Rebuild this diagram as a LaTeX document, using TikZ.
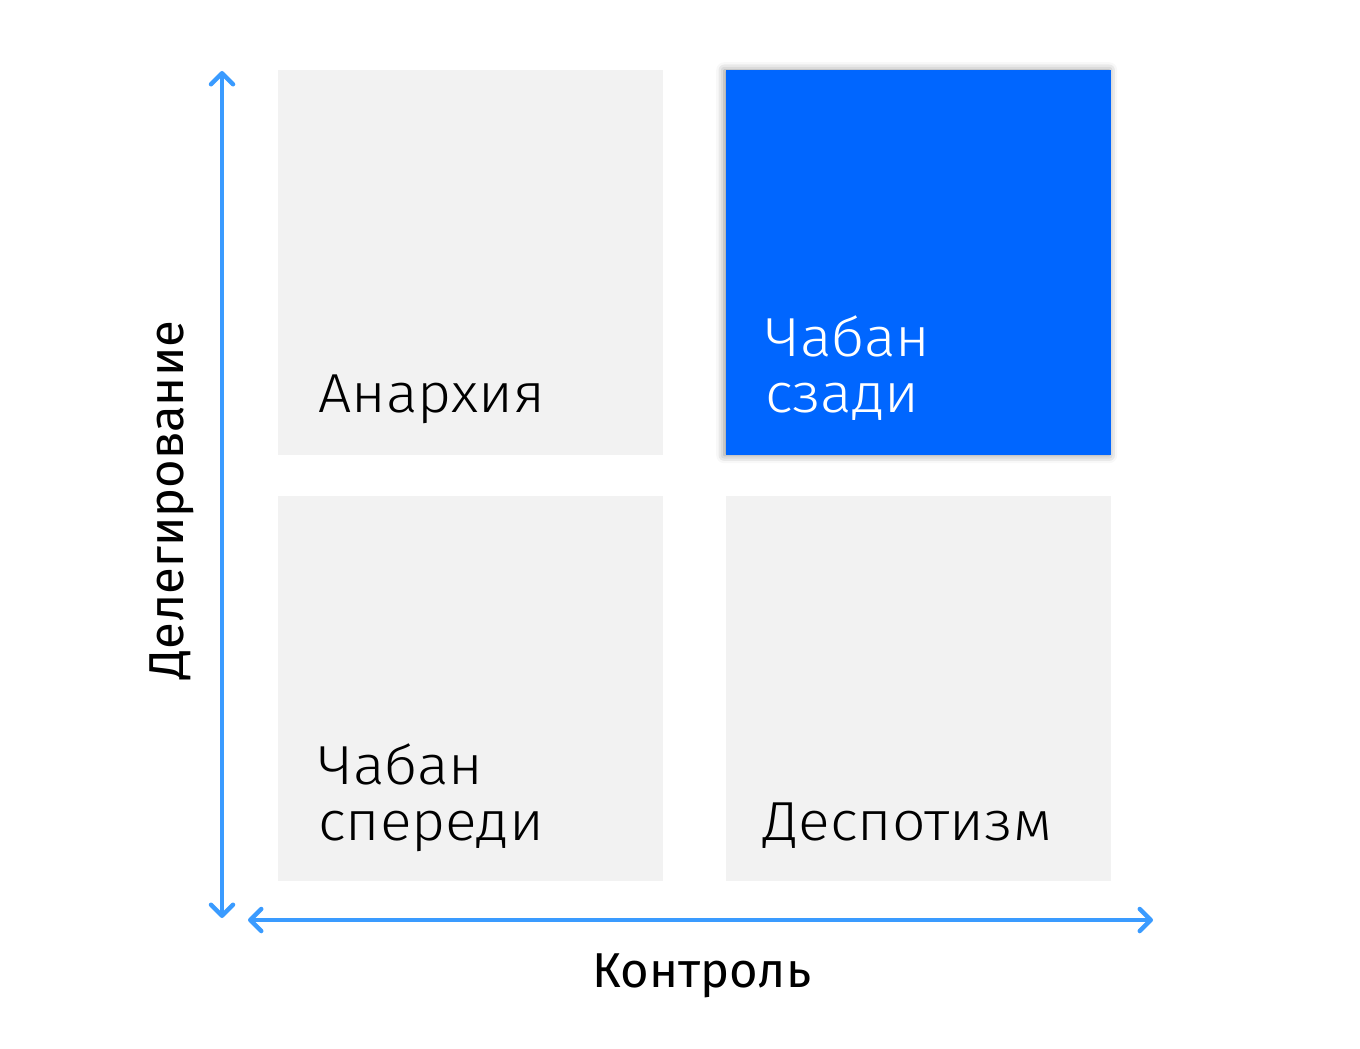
\documentclass[tikz,border=0pt]{standalone}
\usepackage{fontspec}
\usepackage{graphicx}
\setmainfont{Fira Sans}
\newfontfamily\lightfont{Fira Sans Light}
\usetikzlibrary{arrows.meta,shadows.blur}
\definecolor{boxgrey}{HTML}{F2F2F2}
\definecolor{boxblue}{HTML}{0066FF}
\definecolor{axisblue}{HTML}{3A9BFF}
\newcommand{\wide}[1]{\scalebox{1.07}[1]{#1}}
\tikzset{barbtip/.tip={Straight Barb[length=11pt,width=22pt,line width=4.5pt,line cap=round,line join=round]}}
\begin{document}
\begin{tikzpicture}[x=1pt,y=-1pt,
  cell/.style={draw=none,fill=boxgrey,minimum width=385pt,minimum height=385pt,inner sep=0pt,anchor=north west},
  hot/.style={cell,fill=boxblue,blur shadow={shadow xshift=-2pt,shadow yshift=0pt,shadow blur radius=8pt,shadow opacity=45}},
  lbl/.style={font=\lightfont\fontsize{55}{60}\selectfont,inner sep=0pt,anchor=base west},
  axislbl/.style={font=\fontsize{49}{54}\selectfont,inner sep=0pt},
  axis/.style={draw=axisblue,line width=4pt,line cap=round,barbtip-barbtip}
]
\useasboundingbox (0,0) rectangle (1360,1049);
\node[cell] (tl) at (278,70) {};
\node[hot] (tr) at (726,70) {};
\node[cell] (bl) at (278,496) {};
\node[cell] (br) at (726,496) {};

\node[lbl] (t1) at (318,412) {\wide{Анархия}};
\node[lbl,text=white] (t2a) at (765,356) {\wide{Чабан}};
\node[lbl,text=white] (t2b) at (765,412) {\wide{сзади}};
\node[lbl] (t3a) at (318,784) {\wide{Чабан}};
\node[lbl] (t3b) at (318,840) {\wide{спереди}};
\node[lbl] (t4) at (763,840) {\wide{Деспотизм}};

\coordinate (vtop) at (222,71);
\coordinate (vbot) at (222,918);
\coordinate (hl) at (248,920);
\coordinate (hr) at (1153,920);
\draw[axis] (vbot) -- (vtop);
\draw[axis] (hl) -- (hr);

\node[axislbl,anchor=base] (xl) at (702,987) {Контроль};
\node[axislbl,anchor=base,rotate=90] (yl) at (183,500) {Делегирование};
\end{tikzpicture}
\end{document}
